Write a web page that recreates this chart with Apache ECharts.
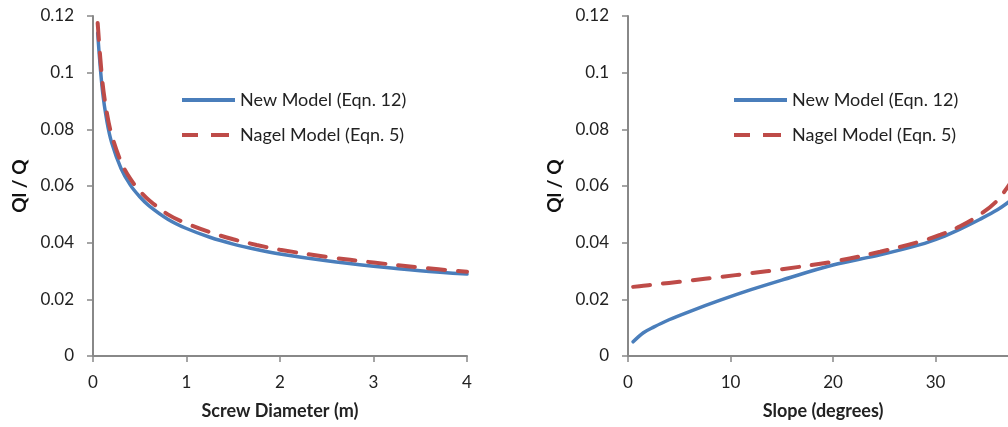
<!DOCTYPE html>
<html><head><meta charset="utf-8">
<script src="https://cdn.jsdelivr.net/npm/echarts@6/dist/echarts.min.js"></script>
<style>html,body{margin:0;padding:0;background:#fff}#c{width:1008px;height:427px}</style>
</head><body><div id="c"></div>
<script>
// Left panel: Screw Diameter (m)
const diameter = [0.05, 0.1, 0.15, 0.2, 0.3, 0.4, 0.5, 0.6, 0.8, 1.0, 1.25, 1.5, 1.75, 2.0, 2.5, 3.0, 3.5, 4.0];
const newModelD = [0.114, 0.094, 0.0826, 0.0753, 0.0662, 0.0603, 0.0562, 0.053, 0.0483, 0.045, 0.0419, 0.0395, 0.0376, 0.036, 0.0336, 0.0317, 0.0301, 0.0289];
const nagelModelD = [0.1175, 0.097, 0.0855, 0.078, 0.0685, 0.0625, 0.0583, 0.055, 0.050, 0.0468, 0.0437, 0.0412, 0.0392, 0.0375, 0.035, 0.033, 0.0312, 0.0297];
// Right panel: Slope (degrees)
const slope = [0.5, 1.5, 2.5, 4, 6, 9, 12, 15, 20, 24.6, 28.5, 30.5, 32.4, 34.3, 36, 37.2];
const newModelS = [0.005, 0.0082, 0.0102, 0.0128, 0.0157, 0.0197, 0.0234, 0.0268, 0.0321, 0.0357, 0.0393, 0.0418, 0.0448, 0.0482, 0.0515, 0.0545];
const nagelModelS = [0.0244, 0.0248, 0.0252, 0.0258, 0.0266, 0.0279, 0.0292, 0.0306, 0.0333, 0.0368, 0.0404, 0.0428, 0.0458, 0.0498, 0.0548, 0.0605];
const seriesNames = ['New Model (Eqn. 12)', 'Nagel Model (Eqn. 5)'];

const FONT = 'Lato';
const blue = '#4a7ebb', red = '#be4b48', axisCol = '#888888';
const pair = (xs, ys) => xs.map((x, i) => [x, ys[i]]);
const solidIcon = 'path://M0,0h53v4h-53z';
const dashIcon = 'path://M0,0h16v4h-16zM29,0h18v4h-18zM52.99,1.99h0.01v0.01h-0.01z';

function xAx(idx, max, name, pad) {
  return {type:'value', gridIndex:idx, min:0, max:max, interval: max===4?1:10,
    name:name, nameLocation:'middle', nameGap:46,
    nameTextStyle:{fontFamily:FONT, fontSize:18, fontWeight:'bold', color:'#222', padding:pad},
    axisLine:{lineStyle:{color:axisCol, width:2}}, axisTick:{length:6, lineStyle:{color:axisCol, width:1.5}},
    axisLabel:{fontFamily:FONT, fontSize:17, color:'#222', margin:18},
    splitLine:{show:false}};
}
function yAx(idx) {
  return {type:'value', gridIndex:idx, min:0, max:0.12, interval:0.02,
    name:'Ql / Q', nameLocation:'middle', nameGap:64, nameRotate:90,
    nameTextStyle:{fontFamily:FONT, fontSize:19, fontWeight:'bold', color:'#111'},
    axisLine:{show:true, lineStyle:{color:axisCol, width:2}}, axisTick:{show:true, length:6, lineStyle:{color:axisCol, width:1.5}},
    axisLabel:{fontFamily:FONT, fontSize:17, color:'#222', margin:19},
    splitLine:{show:false}};
}
function line(name, data, idx, col, dashed) {
  return {type:'line', name:name, xAxisIndex:idx, yAxisIndex:idx, data:data, smooth:0.35,
    showSymbol:false, symbol:'none', silent:true, clip:true,
    lineStyle:{color:col, width:dashed?4:3.5, type:dashed?[17,13]:'solid', cap:'round'},
    itemStyle:{color:col}};
}
function legendAt(left) {
  return {left:left, top:86, orient:'vertical', itemWidth:53, itemHeight:4, itemGap:17,
    data:[{name:seriesNames[0], icon:solidIcon}, {name:seriesNames[1], icon:dashIcon}],
    textStyle:{fontFamily:FONT, fontSize:18, color:'#222'}, selectedMode:false};
}

const chart = echarts.init(document.getElementById('c'), null, {renderer:'canvas'});
chart.setOption({
  animation:false,
  backgroundColor:'#fff',
  grid:[{left:93, top:16, width:374, height:340, outerBoundsMode:'none'},
        {left:628, top:16, width:410, height:340, outerBoundsMode:'none'}],
  xAxis:[xAx(0, 4, 'Screw Diameter (m)', [0,0,0,0]), xAx(1, 40, 'Slope (degrees)', [0,20,0,0])],
  yAxis:[yAx(0), yAx(1)],
  legend:[legendAt(177), legendAt(729)],
  series:[
    line(seriesNames[0], pair(diameter, newModelD), 0, blue, false),
    line(seriesNames[1], pair(diameter, nagelModelD), 0, red, true),
    line(seriesNames[0], pair(slope, newModelS), 1, blue, false),
    line(seriesNames[1], pair(slope, nagelModelS), 1, red, true)
  ]
});
</script></body></html>
